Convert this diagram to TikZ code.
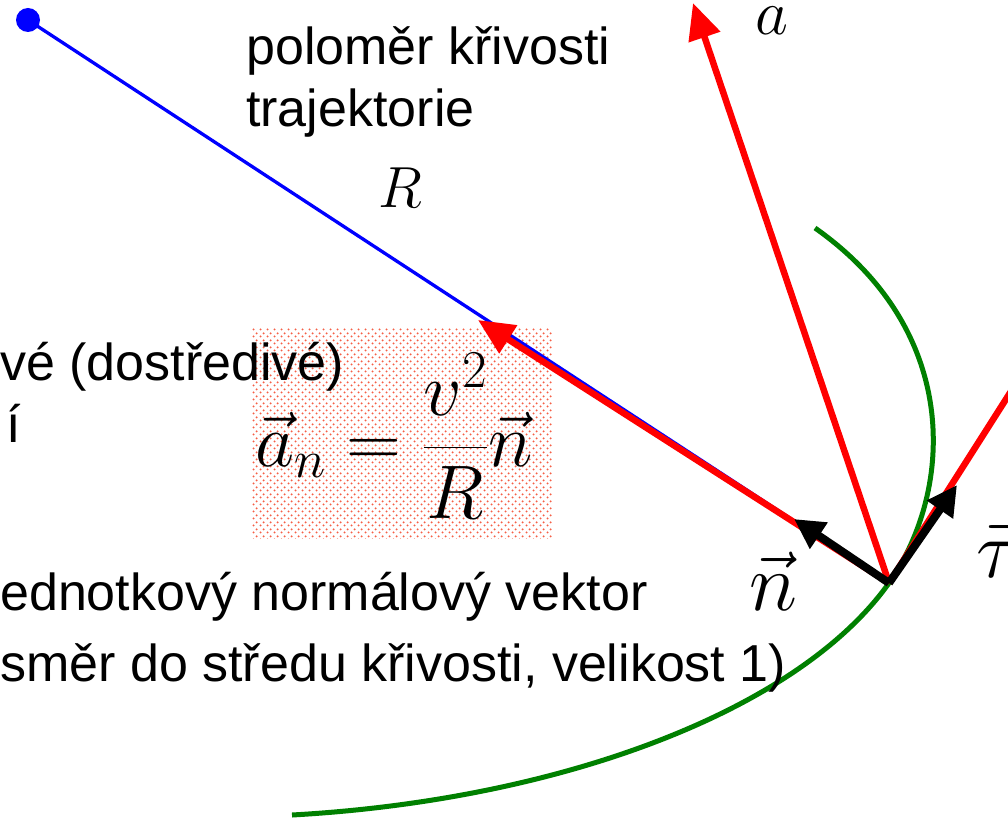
\documentclass[tikz,border=0pt]{standalone}
\usepackage{fix-cm}
\usepackage{fontspec}
\newfontfamily\arial{Liberation Sans}
\usetikzlibrary{arrows.meta,patterns.meta}
\definecolor{curvegreen}{RGB}{0,128,0}
\definecolor{dotred}{RGB}{245,95,70}
\tikzdeclarepattern{
  name=reddots,
  type=uncolored,
  bounding box={(0pt,0pt) and (7pt,7pt)},
  tile size={(7pt,7pt)},
  code={
    \fill (1.75pt,1.75pt) circle (1.2pt);
    \fill (5.25pt,5.25pt) circle (1.2pt);
  }
}

\begin{document}
\begin{tikzpicture}[
    x=1pt,
    y=-1pt,
    redvec/.style={draw=red, line width=6.5, -{Triangle[length=36pt,width=32pt]}},
    blackvec/.style={draw=black, line width=8, -{Triangle[length=30pt,width=30pt]}},
    txt/.style={font=\arial\fontsize{52}{62}\selectfont, inner sep=0pt, anchor=base west},
    sym/.style={inner sep=0pt, anchor=base}
]
  \useasboundingbox (0,0) rectangle (1008,821);
  \clip (0,0) rectangle (1008,821);

  % points of the vectors
  \coordinate (P) at (889,583);
  \coordinate (tipA) at (693,3);
  \coordinate (tipAn) at (478,320);
  \coordinate (tipN) at (794,519);
  \coordinate (tipT) at (957,485);
  \coordinate (endT) at (1036,352);

  % formula box
  \fill[pattern=reddots, pattern color=dotred] (252,328) rectangle (552,538);
  \node[inner sep=0pt] (formula) at (394,436)
    {\fontsize{76}{80}\selectfont$\displaystyle\vec a_n=\frac{v^2}{R}\vec n$};

  % trajectory
  \draw[curvegreen, line width=5] (815,228) .. controls (960,330) and (955,488) .. (P)
    .. controls (798,711) and (560,800) .. (292,815);

  % radius of curvature
  \node[circle, fill=blue, minimum size=24pt, inner sep=0pt] (O) at (28,20) {};
  \draw[blue, line width=3.3] (O.center) -- (P);

  % acceleration vectors
  \draw[redvec] (P) -- (tipAn);
  \draw[redvec] (P) -- (tipA);
  \draw[red, line width=6.5] (P) -- (endT);
  \draw[blackvec] (P) -- (tipN);
  \draw[blackvec] (P) -- (tipT);

  % labels
  \node[sym, font=\fontsize{64}{66}\selectfont] (la) at (772,35) {$a$};
  \node[sym, font=\fontsize{58}{60}\selectfont] (lR) at (400,207) {$R$};
  \node[sym, font=\fontsize{82}{84}\selectfont] (ln) at (773,610) {$\vec n$};
  \node[inner sep=0pt, anchor=base west, font=\fontsize{82}{84}\selectfont] (ltau) at (976,577) {$\vec\tau$};

  \node[txt] (t1) at (246,65) {poloměr křivosti};
  \node[txt] (t2) at (246,127) {trajektorie};
  \node[txt] (t3) at (0,380) {vé (dostředivé)};
  \node[txt] (t4) at (6,442) {í};
  \node[txt] (t5) at (0,610) {ednotkový normálový vektor};
  \node[txt] (t6) at (0,681) {směr do středu křivosti, velikost 1)};
\end{tikzpicture}
\end{document}
